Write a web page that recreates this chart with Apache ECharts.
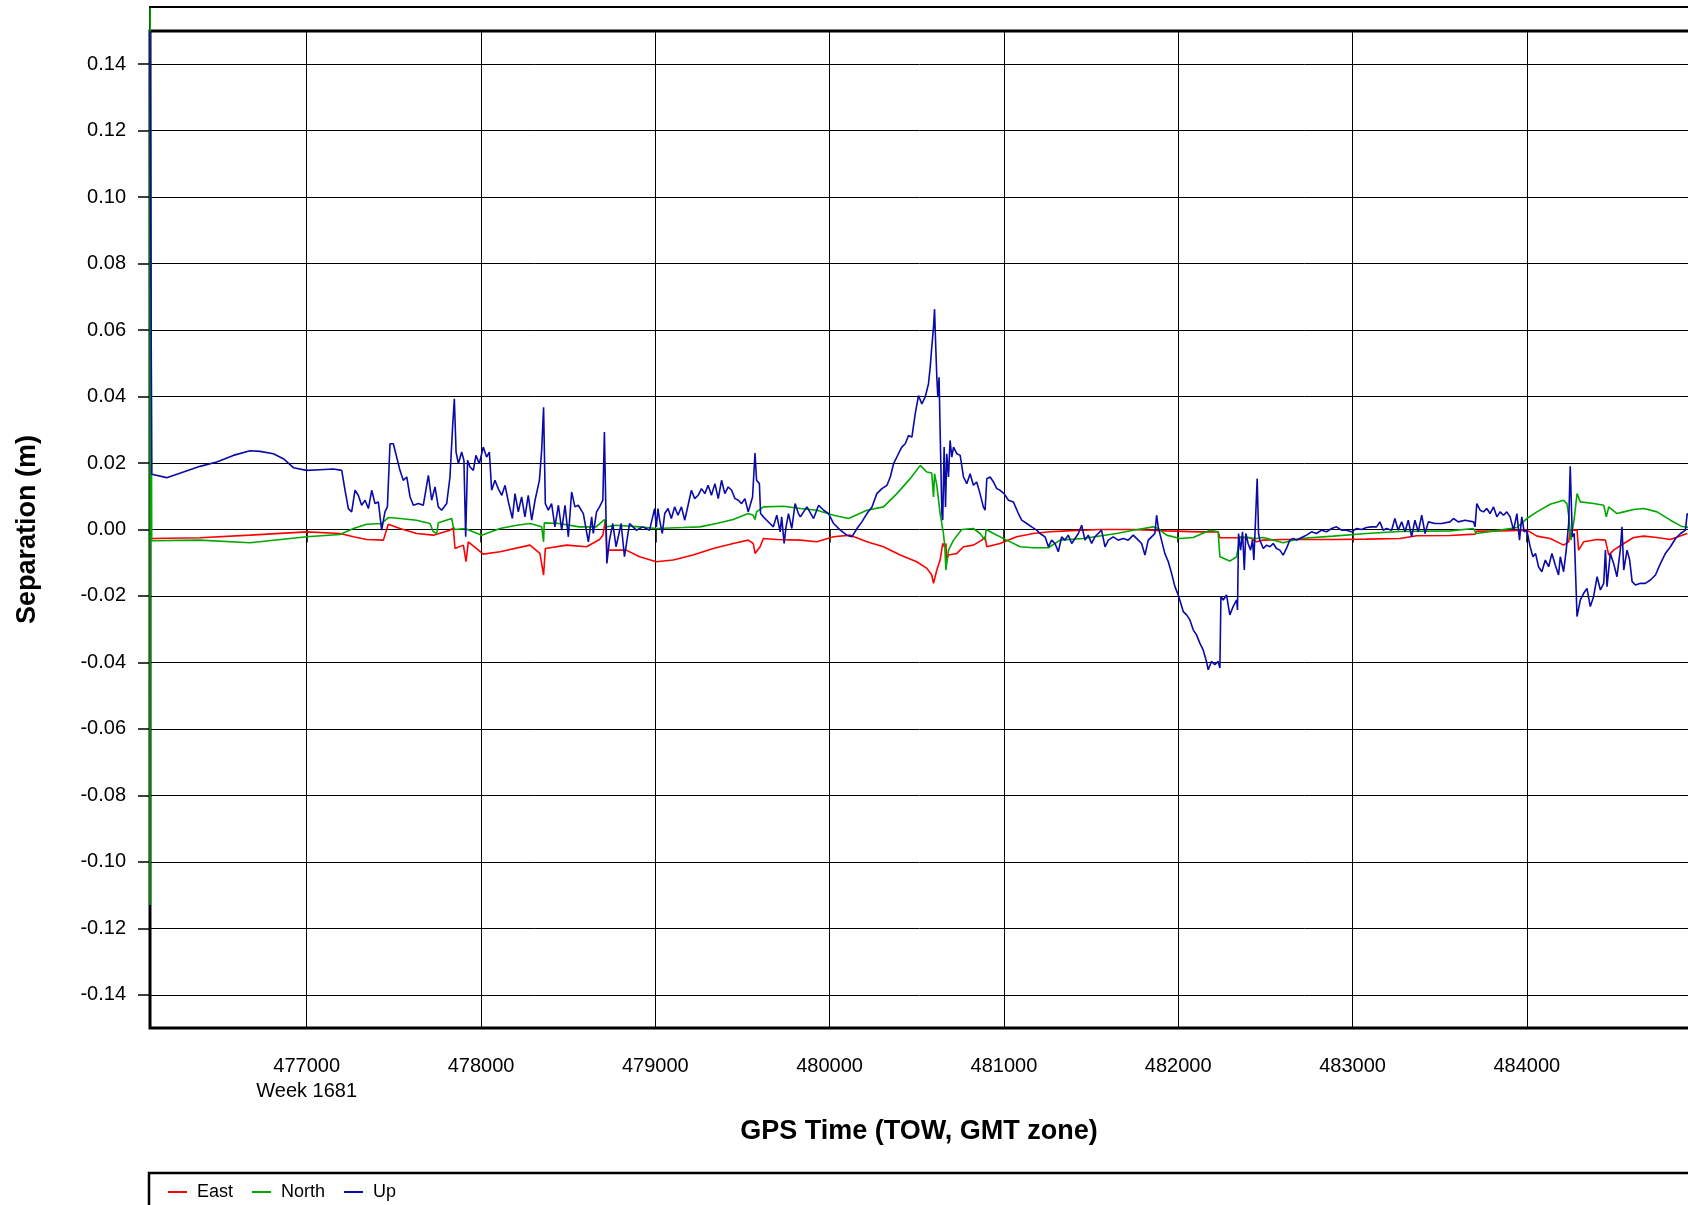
<!DOCTYPE html>
<html>
<head>
<meta charset="utf-8">
<script src="https://cdn.jsdelivr.net/npm/echarts@6/dist/echarts.min.js"></script>
<style>
html,body{margin:0;padding:0;background:#fff;}
#chart{width:1688px;height:1205px;}
</style>
</head>
<body>
<div id="chart"></div>
<script>
// Tick labels
const xTicks = [477000, 478000, 479000, 480000, 481000, 482000, 483000, 484000];
const yTicks = [-0.14, -0.12, -0.10, -0.08, -0.06, -0.04, -0.02, 0.00, 0.02, 0.04, 0.06, 0.08, 0.10, 0.12, 0.14];
const xMin = 476101, xMax = 484982;
const yMin = -0.15, yMax = 0.15;
const seriesNames = ['East', 'North', 'Up'];
const xTitle = 'GPS Time (TOW, GMT zone)';
const yTitle = 'Separation (m)';
const weekLabel = 'Week 1681';

// [GPS time of week (s), separation (m)]
const eastData = [
[476111,-0.0027],[476388,-0.0025],[476675,-0.0017],[477000,-0.0007],[477191,-0.0012],[477268,-0.0022],[477344,-0.0030],[477440,-0.0032],[477468,0.0016],[477535,0.0003],[477631,-0.0012],[477727,-0.0017],[477822,-0.0002],[477841,0.0005],[477851,-0.0057],[477899,-0.0047],[477914,-0.0097],[477927,-0.0037],[478013,-0.0074],[478109,-0.0067],[478281,-0.0047],[478338,-0.0072],[478359,-0.0137],[478369,-0.0057],[478491,-0.0047],[478606,-0.0052],[478680,-0.0030],[478699,-0.0017],[478714,0.0028],[478722,-0.0062],[478775,-0.0062],[478833,-0.0062],[478910,-0.0082],[479006,-0.0097],[479102,-0.0092],[479217,-0.0077],[479332,-0.0057],[479447,-0.0042],[479533,-0.0032],[479562,-0.0042],[479572,-0.0072],[479601,-0.0052],[479620,-0.0027],[479697,-0.0030],[479832,-0.0032],[479927,-0.0037],[480023,-0.0022],[480118,-0.0017],[480214,-0.0037],[480309,-0.0052],[480405,-0.0077],[480500,-0.0097],[480558,-0.0117],[480586,-0.0137],[480596,-0.0162],[480615,-0.0122],[480634,-0.0092],[480649,-0.0042],[480659,-0.0052],[480667,-0.0042],[480672,-0.0092],[480682,-0.0077],[480730,-0.0072],[480768,-0.0052],[480825,-0.0047],[480873,-0.0032],[480892,-0.0022],[480902,-0.0052],[480978,-0.0042],[481073,-0.0022],[481169,-0.0012],[481264,-0.0007],[481360,-0.0004],[481551,0.0000],[481742,0.0000],[481933,-0.0004],[482124,-0.0007],[482229,-0.0007],[482239,-0.0025],[482315,-0.0025],[482411,-0.0024],[482449,-0.0037],[482488,-0.0032],[482602,-0.0030],[482698,-0.0030],[482889,-0.0030],[483080,-0.0029],[483271,-0.0027],[483368,-0.0019],[483559,-0.0018],[483703,-0.0014],[483713,-0.0005],[483847,-0.0004],[484000,-0.0002],[484058,-0.0020],[484134,-0.0027],[484211,-0.0047],[484240,-0.0037],[484249,-0.0002],[484288,-0.0002],[484297,-0.0062],[484326,-0.0037],[484403,-0.0030],[484451,-0.0032],[484470,-0.0077],[484498,-0.0062],[484556,-0.0042],[484613,-0.0024],[484671,-0.0020],[484747,-0.0024],[484824,-0.0030],[484920,-0.0012]
];

const northData = [
[476101,-0.113],[476102,0.157],[476111,-0.0034],[476388,-0.0032],[476675,-0.0040],[477000,-0.0022],[477191,-0.0015],[477268,0.0003],[477344,0.0016],[477430,0.0018],[477468,0.0036],[477535,0.0033],[477631,0.0028],[477707,0.0018],[477727,-0.0007],[477746,-0.0012],[477755,0.0020],[477832,0.0033],[477841,0.0008],[477851,0.0000],[477908,0.0003],[477918,-0.0002],[478004,-0.0017],[478109,0.0003],[478205,0.0013],[478281,0.0018],[478348,0.0008],[478359,-0.0037],[478363,0.0020],[478449,0.0018],[478564,0.0008],[478660,0.0008],[478708,0.0030],[478718,0.0008],[478775,0.0013],[478910,0.0008],[479006,0.0003],[479159,0.0006],[479255,0.0008],[479351,0.0018],[479447,0.0030],[479533,0.0048],[479562,0.0043],[479572,0.0030],[479581,0.0053],[479620,0.0068],[479735,0.0070],[479832,0.0063],[479927,0.0058],[480023,0.0043],[480109,0.0033],[480214,0.0058],[480309,0.0068],[480386,0.0108],[480462,0.0153],[480520,0.0193],[480558,0.0173],[480586,0.0170],[480596,0.0098],[480602,0.0168],[480615,0.0133],[480634,0.0048],[480653,-0.0012],[480661,-0.0052],[480667,-0.0122],[480682,-0.0062],[480711,-0.0032],[480758,0.0000],[480825,0.0003],[480863,-0.0012],[480892,-0.0032],[480898,0.0000],[480940,-0.0012],[481016,-0.0032],[481093,-0.0052],[481169,-0.0055],[481255,-0.0055],[481322,-0.0032],[481455,-0.0027],[481646,-0.0012],[481742,-0.0002],[481857,0.0008],[481885,0.0003],[481933,-0.0017],[482010,-0.0027],[482086,-0.0024],[482182,-0.0002],[482229,-0.0007],[482239,-0.0082],[482296,-0.0095],[482335,-0.0082],[482354,-0.0022],[482449,-0.0027],[482488,-0.0024],[482602,-0.0040],[482698,-0.0027],[482889,-0.0020],[483080,-0.0012],[483271,-0.0006],[483559,-0.0004],[483694,0.0003],[483709,-0.0012],[483847,-0.0002],[483943,0.0006],[484000,0.0033],[484058,0.0053],[484134,0.0076],[484211,0.0088],[484230,0.0078],[484240,0.0043],[484253,-0.0032],[484272,0.0033],[484288,0.0108],[484307,0.0083],[484383,0.0078],[484441,0.0073],[484456,0.0038],[484470,0.0068],[484517,0.0048],[484556,0.0053],[484613,0.0060],[484671,0.0063],[484747,0.0053],[484824,0.0028],[484885,0.0010],[484927,0.0006]
];

const upData = [
[476101,0.15],[476111,0.0166],[476197,0.0156],[476293,0.0173],[476388,0.0190],[476484,0.0203],[476579,0.0223],[476675,0.0237],[476732,0.0235],[476809,0.0228],[476866,0.0213],[476924,0.0186],[477000,0.0178],[477076,0.0180],[477153,0.0182],[477201,0.0178],[477220,0.0118],[477239,0.0063],[477258,0.0053],[477277,0.0118],[477296,0.0103],[477315,0.0073],[477335,0.0088],[477354,0.0063],[477373,0.0118],[477392,0.0078],[477411,0.0083],[477430,-0.0002],[477449,0.0053],[477463,0.0068],[477478,0.0258],[477497,0.0258],[477516,0.0218],[477535,0.0178],[477554,0.0148],[477574,0.0158],[477593,0.0098],[477612,0.0073],[477641,0.0078],[477669,0.0073],[477698,0.0163],[477717,0.0088],[477736,0.0128],[477755,0.0068],[477774,0.0058],[477803,0.0078],[477822,0.0158],[477837,0.0308],[477847,0.0393],[477857,0.0233],[477870,0.0198],[477889,0.0233],[477902,0.0208],[477912,-0.0022],[477923,0.0208],[477937,0.0188],[477956,0.0178],[477971,0.0223],[477990,0.0198],[478013,0.0248],[478032,0.0218],[478048,0.0233],[478061,0.0118],[478080,0.0148],[478099,0.0123],[478119,0.0103],[478138,0.0133],[478157,0.0083],[478180,0.0033],[478195,0.0108],[478214,0.0053],[478233,0.0098],[478252,0.0038],[478271,0.0103],[478291,0.0028],[478310,0.0088],[478335,0.0148],[478348,0.0238],[478359,0.0368],[478369,0.0078],[478386,0.0058],[478405,0.0078],[478424,0.0008],[478444,0.0073],[478463,-0.0002],[478482,0.0073],[478501,-0.0022],[478520,0.0113],[478539,0.0068],[478558,0.0073],[478587,0.0048],[478616,-0.0037],[478635,0.0038],[478644,-0.0012],[478663,0.0053],[478680,0.0068],[478699,0.0088],[478708,0.0293],[478722,-0.0102],[478737,-0.0032],[478756,0.0018],[478775,-0.0052],[478804,0.0018],[478823,-0.0082],[478852,0.0018],[478891,-0.0002],[478929,0.0008],[478967,-0.0002],[478996,0.0063],[479006,0.0008],[479015,0.0063],[479025,0.0028],[479040,-0.0012],[479054,0.0048],[479073,0.0063],[479092,0.0033],[479111,0.0068],[479130,0.0043],[479150,0.0068],[479169,0.0028],[479188,0.0073],[479207,0.0118],[479226,0.0093],[479246,0.0103],[479265,0.0123],[479284,0.0108],[479303,0.0133],[479322,0.0103],[479342,0.0138],[479361,0.0093],[479380,0.0148],[479399,0.0108],[479418,0.0128],[479438,0.0118],[479457,0.0093],[479476,0.0088],[479495,0.0078],[479514,0.0093],[479533,0.0053],[479547,0.0078],[479558,0.0098],[479572,0.0230],[479581,0.0148],[479597,0.0138],[479604,0.0048],[479620,0.0038],[479639,0.0028],[479658,0.0018],[479677,0.0008],[479697,0.0043],[479716,-0.0007],[479725,0.0038],[479739,-0.0042],[479750,0.0008],[479764,0.0048],[479783,0.0003],[479802,0.0078],[479821,0.0048],
[479832,0.0038],[479870,0.0068],[479908,0.0033],[479937,0.0073],[479966,0.0058],[479994,0.0048],[480023,0.0018],[480061,-0.0002],[480099,-0.0017],[480128,-0.0022],[480157,0.0003],[480185,0.0023],[480214,0.0048],[480243,0.0068],[480271,0.0108],[480300,0.0123],[480329,0.0133],[480348,0.0158],[480367,0.0198],[480395,0.0228],[480414,0.0248],[480434,0.0258],[480453,0.0283],[480472,0.0278],[480491,0.0348],[480510,0.0403],[480529,0.0378],[480548,0.0398],[480567,0.0438],[480577,0.0488],[480586,0.0548],[480596,0.0608],[480602,0.0663],[480609,0.0548],[480615,0.0458],[480621,0.0398],[480628,0.0458],[480634,0.0298],[480644,0.0048],[480649,0.0028],[480657,0.0248],[480665,0.0068],[480672,0.0228],[480682,0.0158],[480691,0.0268],[480701,0.0218],[480711,0.0248],[480730,0.0228],[480749,0.0223],[480768,0.0158],[480787,0.0138],[480806,0.0168],[480825,0.0133],[480844,0.0143],[480863,0.0108],[480882,0.0068],[480892,0.0058],[480902,0.0153],[480921,0.0158],[480940,0.0143],[480959,0.0123],[480978,0.0118],[481001,0.0108],[481026,0.0088],[481054,0.0083],[481083,0.0048],[481102,0.0028],[481131,0.0018],[481159,0.0008],[481188,-0.0002],[481207,-0.0012],[481236,-0.0022],[481255,-0.0052],[481274,-0.0032],[481293,-0.0042],[481312,-0.0067],[481331,-0.0022],[481350,-0.0032],[481369,-0.0017],[481389,-0.0042],[481408,-0.0027],[481427,-0.0012],[481446,0.0013],[481465,-0.0032],[481484,-0.0017],[481503,-0.0042],[481522,-0.0022],[481541,-0.0012],[481560,-0.0002],[481580,-0.0052],[481599,-0.0032],[481627,-0.0022],[481656,-0.0032],[481685,-0.0027],[481713,-0.0032],[481742,-0.0017],[481771,-0.0032],[481790,-0.0042],[481809,-0.0077],[481828,-0.0032],[481847,-0.0022],[481866,-0.0012],[481876,0.0043],[481885,0.0008],[481904,-0.0032],[481923,-0.0072],[481943,-0.0097],[481962,-0.0132],[481981,-0.0172],[482000,-0.0197],
[482029,-0.0247],[482048,-0.0257],[482067,-0.0272],[482086,-0.0302],[482105,-0.0317],[482124,-0.0342],[482143,-0.0362],[482162,-0.0397],[482172,-0.0422],[482191,-0.0397],[482210,-0.0407],[482229,-0.0397],[482239,-0.0417],[482245,-0.0202],[482258,-0.0212],[482277,-0.0197],[482296,-0.0257],[482315,-0.0232],[482335,-0.0212],[482340,-0.0242],[482346,-0.0012],[482358,-0.0062],[482369,-0.0007],[482379,-0.0122],[482388,-0.0012],[482401,-0.0042],[482415,-0.0062],[482426,-0.0032],[482434,-0.0092],[482445,0.0048],[482453,0.0153],[482461,-0.0012],[482468,-0.0032],[482488,-0.0057],[482507,-0.0047],[482526,-0.0052],[482545,-0.0042],[482564,-0.0057],[482583,-0.0062],[482602,-0.0077],[482621,-0.0057],[482640,-0.0032],[482660,-0.0027],[482679,-0.0032],[482698,-0.0027],[482717,-0.0022],[482736,-0.0017],[482765,-0.0007],[482793,-0.0012],[482822,-0.0002],[482851,-0.0007],[482880,0.0003],[482908,0.0008],[482937,-0.0002],[482966,-0.0002],[482994,-0.0007],[483023,0.0003],[483052,0.0000],[483080,0.0006],[483109,0.0008],[483138,0.0008],[483157,0.0023],[483176,-0.0002],[483195,0.0003],[483224,-0.0002],[483243,0.0033],[483262,-0.0002],
[483282,0.0023],[483301,-0.0007],[483320,0.0028],[483339,-0.0022],[483358,0.0028],[483377,-0.0007],[483397,0.0043],[483416,-0.0012],[483435,0.0023],[483473,0.0018],[483512,0.0018],[483559,0.0023],[483579,0.0033],[483607,0.0023],[483646,0.0028],[483694,0.0023],[483703,0.0008],[483713,0.0078],[483732,0.0058],[483751,0.0053],[483770,0.0063],[483789,0.0048],[483809,0.0068],[483828,0.0038],[483847,0.0053],[483866,0.0043],[483885,0.0053],[483904,0.0038],[483924,-0.0002],[483943,0.0048],[483958,-0.0032],[483971,0.0038],[483985,-0.0007],[484000,-0.0002],[484019,-0.0052],[484035,-0.0082],[484050,-0.0072],[484067,-0.0112],[484086,-0.0127],[484106,-0.0092],[484125,-0.0112],[484144,-0.0072],[484163,-0.0107],[484182,-0.0137],[484192,-0.0082],[484211,-0.0127],[484226,-0.0062],[484240,0.0018],[484249,0.0190],[484261,-0.0022],[484272,-0.0012],[484288,-0.0262],[484307,-0.0212],[484326,-0.0192],[484345,-0.0177],[484364,-0.0232],[484383,-0.0202],[484403,-0.0142],[484422,-0.0182],[484441,-0.0162],[484451,-0.0062],[484460,-0.0172],[484479,-0.0072],[484498,-0.0102],[484517,-0.0142],[484536,-0.0062],[484546,0.0008],[484556,-0.0122],[484575,-0.0062],[484590,-0.0092],[484604,-0.0157],[484623,-0.0167],[484652,-0.0162],[484680,-0.0162],[484709,-0.0152],[484738,-0.0137],[484767,-0.0102],[484795,-0.0072],[484824,-0.0052],[484853,-0.0027],[484882,-0.0012],[484910,-0.0002],[484920,0.0048],[484927,0.0043]
];

const FONT = '"Liberation Sans", Arial, Helvetica, sans-serif';
const chart = echarts.init(document.getElementById('chart'), null, {renderer: 'canvas'});

const option = {
  animation: false,
  backgroundColor: '#ffffff',
  textStyle: {fontFamily: FONT, color: '#000'},
  grid: {
    left: 150, top: 31, width: 1548, bottom: 177,
    outerBoundsMode: 'none', containLabel: false,
    show: true, borderColor: '#000', borderWidth: 3, backgroundColor: 'transparent'
  },
  graphic: [
    {type: 'rect', z: -1, shape: {x: 150, y: 7, width: 1700, height: 1021},
     style: {fill: 'none', stroke: '#000', lineWidth: 2}},
    {type: 'rect', shape: {x: 149, y: 1173, width: 1700, height: 100},
     style: {fill: 'none', stroke: '#000', lineWidth: 2.5}}
  ],
  legend: {
    data: seriesNames,
    left: 168, top: 1183, padding: 0,
    icon: 'rect', itemWidth: 19, itemHeight: 2, itemGap: 19,
    selectedMode: false,
    textStyle: {fontFamily: FONT, fontSize: 18, color: '#000', padding: [0, 0, 0, 5]}
  },
  xAxis: {
    type: 'value', min: xMin, max: xMax,
    name: xTitle, nameLocation: 'middle', nameGap: 90,
    nameTextStyle: {fontFamily: FONT, fontSize: 27, fontWeight: 'bold', color: '#000', padding: [0, 10, 0, 0]},
    axisLine: {show: false},
    axisTick: {show: true, inside: false, length: 13, customValues: xTicks, lineStyle: {color: '#000', width: 1.5}},
    axisLabel: {customValues: xTicks, margin: 26, fontFamily: FONT, fontSize: 20, color: '#000', lineHeight: 25,
      formatter: v => (v === xTicks[0] ? v + '\n' + weekLabel : String(v))},
    splitLine: {show: true, lineStyle: {color: '#000', width: 1}}
  },
  yAxis: {
    type: 'value', min: yMin, max: yMax,
    name: yTitle, nameLocation: 'middle', nameGap: 109,
    nameTextStyle: {fontFamily: FONT, fontSize: 27, fontWeight: 'bold', color: '#000'},
    axisLine: {show: false},
    axisTick: {show: true, inside: false, length: 12, customValues: yTicks, lineStyle: {color: '#000', width: 1.5}},
    axisLabel: {customValues: yTicks, margin: 24, fontFamily: FONT, fontSize: 20, color: '#000',
      formatter: v => v.toFixed(2)},
    splitLine: {show: true, lineStyle: {color: '#000', width: 1}}
  },
  series: [
    {name: seriesNames[0], type: 'line', data: eastData, showSymbol: false, symbol: 'none',
     color: '#ff0000', lineStyle: {color: '#ff0000', width: 1.6}},
    {name: seriesNames[1], type: 'line', data: northData, showSymbol: false, symbol: 'none', clip: false,
     color: '#00a800', lineStyle: {color: '#00a800', width: 1.6}},
    {name: seriesNames[2], type: 'line', data: upData, showSymbol: false, symbol: 'none',
     color: '#0a0aa8', lineStyle: {color: '#0a0aa8', width: 1.6}}
  ]
};
chart.setOption(option);
</script>
</body>
</html>
